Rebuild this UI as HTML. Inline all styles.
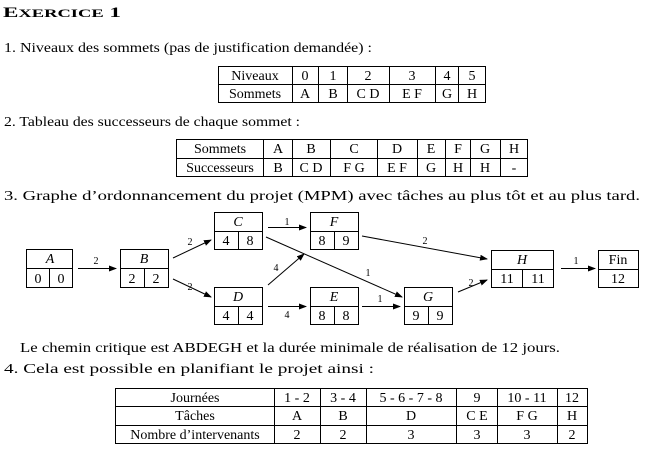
<!DOCTYPE html>
<html><head><meta charset="utf-8"><style>
body{margin:0;background:#fff;}
svg{display:block;font-family:"Liberation Serif",serif;}
text{fill:#000;}
</style></head><body>
<svg width="663" height="476" viewBox="0 0 663 476">
<defs><marker id="ar" markerWidth="8" markerHeight="6" refX="7" refY="3" orient="auto" markerUnits="userSpaceOnUse"><path d="M0,0 L8,3 L0,6 z" fill="#000"/></marker></defs>
<text x="3" y="17" font-size="15" font-weight="bold" textLength="118" lengthAdjust="spacingAndGlyphs">E<tspan font-size="12">XERCICE</tspan> 1</text>
<text x="4" y="52" font-size="14" textLength="368" lengthAdjust="spacingAndGlyphs">1.  Niveaux des sommets (pas de justification demandée) :</text>
<g stroke="#000" stroke-width="1" fill="none">
<rect x="218.5" y="66.5" width="267" height="36"/><line x1="218" y1="84.5" x2="486" y2="84.5"/>
<line x1="292.5" y1="66" x2="292.5" y2="103"/><line x1="318.5" y1="66" x2="318.5" y2="103"/><line x1="347.5" y1="66" x2="347.5" y2="103"/><line x1="389.5" y1="66" x2="389.5" y2="103"/><line x1="435.5" y1="66" x2="435.5" y2="103"/><line x1="458.5" y1="66" x2="458.5" y2="103"/>
</g>
<g font-size="14" text-anchor="middle">
<text x="255" y="80">Niveaux</text><text x="305" y="80">0</text><text x="333" y="80">1</text><text x="368" y="80">2</text><text x="412" y="80">3</text><text x="447" y="80">4</text><text x="472" y="80">5</text>
<text x="255" y="98">Sommets</text><text x="305" y="98">A</text><text x="333" y="98">B</text><text x="368" y="98">C D</text><text x="412" y="98">E F</text><text x="447" y="98">G</text><text x="472" y="98">H</text>
</g>
<text x="4" y="126" font-size="14" textLength="296" lengthAdjust="spacingAndGlyphs">2.  Tableau des successeurs de chaque sommet :</text>
<g stroke="#000" stroke-width="1" fill="none">
<rect x="176.5" y="139.5" width="351" height="37"/><line x1="176" y1="158.5" x2="528" y2="158.5"/>
<line x1="263.5" y1="139" x2="263.5" y2="177"/><line x1="292.5" y1="139" x2="292.5" y2="177"/><line x1="330.5" y1="139" x2="330.5" y2="177"/><line x1="377.5" y1="139" x2="377.5" y2="177"/><line x1="417.5" y1="139" x2="417.5" y2="177"/><line x1="445.5" y1="139" x2="445.5" y2="177"/><line x1="470.5" y1="139" x2="470.5" y2="177"/><line x1="500.5" y1="139" x2="500.5" y2="177"/>
</g>
<g font-size="14" text-anchor="middle">
<text x="220" y="153">Sommets</text><text x="278" y="153">A</text><text x="311" y="153">B</text><text x="354" y="153">C</text><text x="397" y="153">D</text><text x="431" y="153">E</text><text x="458" y="153">F</text><text x="485" y="153">G</text><text x="514" y="153">H</text>
<text x="220" y="172">Successeurs</text><text x="278" y="172">B</text><text x="311" y="172">C D</text><text x="354" y="172">F G</text><text x="397" y="172">E F</text><text x="431" y="172">G</text><text x="458" y="172">H</text><text x="485" y="172">H</text><text x="514" y="172">-</text>
</g>
<text x="4" y="200" font-size="14" textLength="636" lengthAdjust="spacingAndGlyphs">3.  Graphe d’ordonnancement du projet (MPM) avec tâches au plus tôt et au plus tard.</text>
<g stroke="#000" stroke-width="1" fill="none">
<rect x="26.5" y="249.5" width="46" height="38"/><line x1="26" y1="268.5" x2="73" y2="268.5"/><line x1="49.5" y1="268" x2="49.5" y2="288"/>
<rect x="120.5" y="249.5" width="48" height="38"/><line x1="120" y1="268.5" x2="169" y2="268.5"/><line x1="144.5" y1="268" x2="144.5" y2="288"/>
<rect x="214.5" y="212.5" width="48" height="37"/><line x1="214" y1="231.5" x2="263" y2="231.5"/><line x1="238.5" y1="231" x2="238.5" y2="250"/>
<rect x="310.5" y="212.5" width="48" height="37"/><line x1="310" y1="231.5" x2="359" y2="231.5"/><line x1="334.5" y1="231" x2="334.5" y2="250"/>
<rect x="214.5" y="287.5" width="48" height="37"/><line x1="214" y1="306.5" x2="263" y2="306.5"/><line x1="238.5" y1="306" x2="238.5" y2="325"/>
<rect x="310.5" y="287.5" width="48" height="37"/><line x1="310" y1="306.5" x2="359" y2="306.5"/><line x1="334.5" y1="306" x2="334.5" y2="325"/>
<rect x="404.5" y="287.5" width="48" height="37"/><line x1="404" y1="306.5" x2="453" y2="306.5"/><line x1="428.5" y1="306" x2="428.5" y2="325"/>
<rect x="491.5" y="250.5" width="62" height="37"/><line x1="491" y1="269.5" x2="554" y2="269.5"/><line x1="522.5" y1="269" x2="522.5" y2="288"/>
<rect x="598.5" y="250.5" width="40" height="37"/><line x1="598" y1="269.5" x2="639" y2="269.5"/>
</g>
<g stroke="#000" stroke-width="1" marker-end="url(#ar)">
<line x1="78" y1="268.5" x2="116" y2="268.5"/>
<line x1="173" y1="258" x2="211" y2="240"/>
<line x1="173" y1="279" x2="211" y2="297"/>
<line x1="268" y1="227.5" x2="306" y2="227.5"/>
<line x1="266" y1="237" x2="402" y2="297"/>
<line x1="268" y1="285" x2="304" y2="254"/>
<line x1="268" y1="306.5" x2="306" y2="306.5"/>
<line x1="362" y1="306.5" x2="400" y2="306.5"/>
<line x1="362" y1="236" x2="487" y2="259"/>
<line x1="458" y1="292" x2="487" y2="280"/>
<line x1="561" y1="268.5" x2="595" y2="268.5"/>
</g>
<g font-size="14" text-anchor="middle">
<text x="50" y="263" font-style="italic">A</text><text x="38" y="283">0</text><text x="61" y="283">0</text>
<text x="144" y="263" font-style="italic">B</text><text x="132" y="283">2</text><text x="156" y="283">2</text>
<text x="238" y="226" font-style="italic">C</text><text x="226" y="245">4</text><text x="250" y="245">8</text>
<text x="334" y="226" font-style="italic">F</text><text x="322" y="245">8</text><text x="346" y="245">9</text>
<text x="238" y="301" font-style="italic">D</text><text x="226" y="320">4</text><text x="250" y="320">4</text>
<text x="334" y="301" font-style="italic">E</text><text x="322" y="320">8</text><text x="346" y="320">8</text>
<text x="428" y="301" font-style="italic">G</text><text x="416" y="320">9</text><text x="440" y="320">9</text>
<text x="522" y="264" font-style="italic">H</text><text x="507" y="283">11</text><text x="538" y="283">11</text>
<text x="618" y="264">Fin</text><text x="618" y="283">12</text>
</g>
<g font-size="10" text-anchor="middle">
<text x="96" y="264">2</text><text x="190" y="245">2</text><text x="190" y="290">2</text><text x="287" y="225">1</text><text x="368" y="276">1</text><text x="276" y="271">4</text><text x="287" y="318">4</text><text x="380" y="302">1</text><text x="425" y="244">2</text><text x="471" y="286">2</text><text x="576" y="264">1</text>
</g>
<text x="20" y="352" font-size="14" textLength="540" lengthAdjust="spacingAndGlyphs">Le chemin critique est ABDEGH et la durée minimale de réalisation de 12 jours.</text>
<text x="4" y="373" font-size="14" textLength="370" lengthAdjust="spacingAndGlyphs">4.  Cela est possible en planifiant le projet ainsi :</text>
<g stroke="#000" stroke-width="1" fill="none">
<rect x="115.5" y="388.5" width="472" height="55"/><line x1="115" y1="406.5" x2="588" y2="406.5"/><line x1="115" y1="425.5" x2="588" y2="425.5"/>
<line x1="274.5" y1="388" x2="274.5" y2="444"/><line x1="320.5" y1="388" x2="320.5" y2="444"/><line x1="366.5" y1="388" x2="366.5" y2="444"/><line x1="456.5" y1="388" x2="456.5" y2="444"/><line x1="497.5" y1="388" x2="497.5" y2="444"/><line x1="557.5" y1="388" x2="557.5" y2="444"/>
</g>
<g font-size="14" text-anchor="middle">
<text x="195" y="402">Journées</text><text x="297" y="402">1 - 2</text><text x="343" y="402">3 - 4</text><text x="411" y="402">5 - 6 - 7 - 8</text><text x="477" y="402">9</text><text x="527" y="402">10 - 11</text><text x="572" y="402">12</text>
<text x="195" y="420">Tâches</text><text x="297" y="420">A</text><text x="343" y="420">B</text><text x="411" y="420">D</text><text x="477" y="420">C E</text><text x="527" y="420">F G</text><text x="572" y="420">H</text>
<text x="195" y="439">Nombre d’intervenants</text><text x="297" y="439">2</text><text x="343" y="439">2</text><text x="411" y="439">3</text><text x="477" y="439">3</text><text x="527" y="439">3</text><text x="572" y="439">2</text>
</g>
</svg>
</body></html>
